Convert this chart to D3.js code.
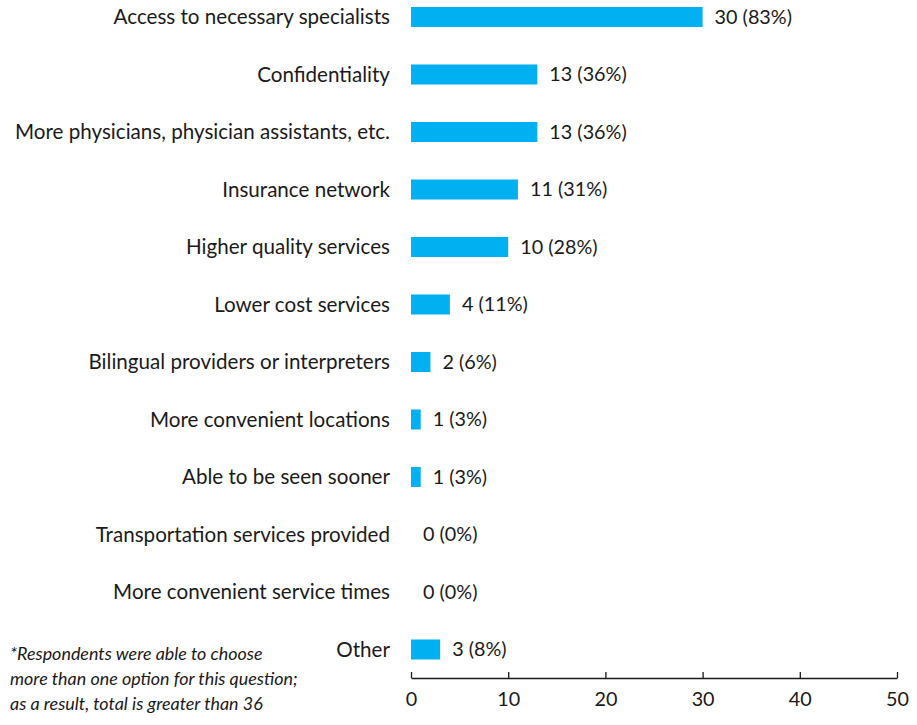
<!DOCTYPE html>
<html>
<head>
<meta charset="utf-8">
<script src="https://cdn.jsdelivr.net/npm/d3@7"></script>
<style>
  html, body { margin: 0; padding: 0; background: #fff; }
  svg text { font-family: Lato, "Open Sans", sans-serif; fill: #1a1a1a; }
</style>
</head>
<body>
<svg id="chart" width="917" height="725"></svg>
<script>
// Categories and counts (n = 36 respondents)
const categories = [
  "Access to necessary specialists",
  "Confidentiality",
  "More physicians, physician assistants, etc.",
  "Insurance network",
  "Higher quality services",
  "Lower cost services",
  "Bilingual providers or interpreters",
  "More convenient locations",
  "Able to be seen sooner",
  "Transportation services provided",
  "More convenient service times",
  "Other"
];
const counts = [30, 13, 13, 11, 10, 4, 2, 1, 1, 0, 0, 3];
const percents = [83, 36, 36, 31, 28, 11, 6, 3, 3, 0, 0, 8];
const xTicks = [0, 10, 20, 30, 40, 50];
const footnote = [
  "*Respondents were able to choose",
  "more than one option for this question;",
  "as a result, total is greater than 36"
];

const svg = d3.select("#chart");
const plotLeft = 411, plotRight = 897, axisY = 678;

const x = d3.scaleLinear().domain([0, 50]).range([plotLeft, plotRight]);
const y = d3.scaleBand().domain(categories).range([7, 659.5]).paddingInner(0.652).paddingOuter(0);

const rows = svg.append("g").selectAll("g").data(categories).join("g");

rows.append("rect")
  .attr("x", x(0))
  .attr("y", d => y(d))
  .attr("width", (d, i) => x(counts[i]) - x(0))
  .attr("height", y.bandwidth())
  .attr("fill", "#00B0F0");

rows.append("text")
  .attr("x", 390)
  .attr("y", d => y(d) + y.bandwidth() / 2)
  .attr("dy", "0.35em")
  .attr("text-anchor", "end")
  .attr("font-size", 20.6)
  .text(d => d);

rows.append("text")
  .attr("x", (d, i) => x(counts[i]) + 12)
  .attr("y", d => y(d) + y.bandwidth() / 2)
  .attr("dy", "0.35em")
  .attr("font-size", 19.8)
  .text((d, i) => `${counts[i]} (${percents[i]}%)`);

// Bottom axis with ticks pointing up
const axis = svg.append("g")
  .attr("transform", `translate(0,${axisY})`)
  .call(d3.axisBottom(x).tickValues(xTicks).tickSize(-6).tickSizeOuter(0).tickPadding(14));
axis.select(".domain").attr("stroke", "#1a1a1a").attr("stroke-width", 1.3);
axis.selectAll(".tick line").attr("stroke", "#1a1a1a").attr("stroke-width", 1.3);
axis.selectAll(".tick text")
  .attr("font-size", 19.8)
  .attr("fill", "#1a1a1a")
  .style("font-family", "Lato, 'Open Sans', sans-serif");

// Footnote
svg.append("g").selectAll("text").data(footnote).join("text")
  .attr("x", 10)
  .attr("y", (d, i) => 659.5 + i * 25)
  .attr("font-size", 17.9)
  .attr("font-style", "italic")
  .text(d => d);
</script>
</body>
</html>
